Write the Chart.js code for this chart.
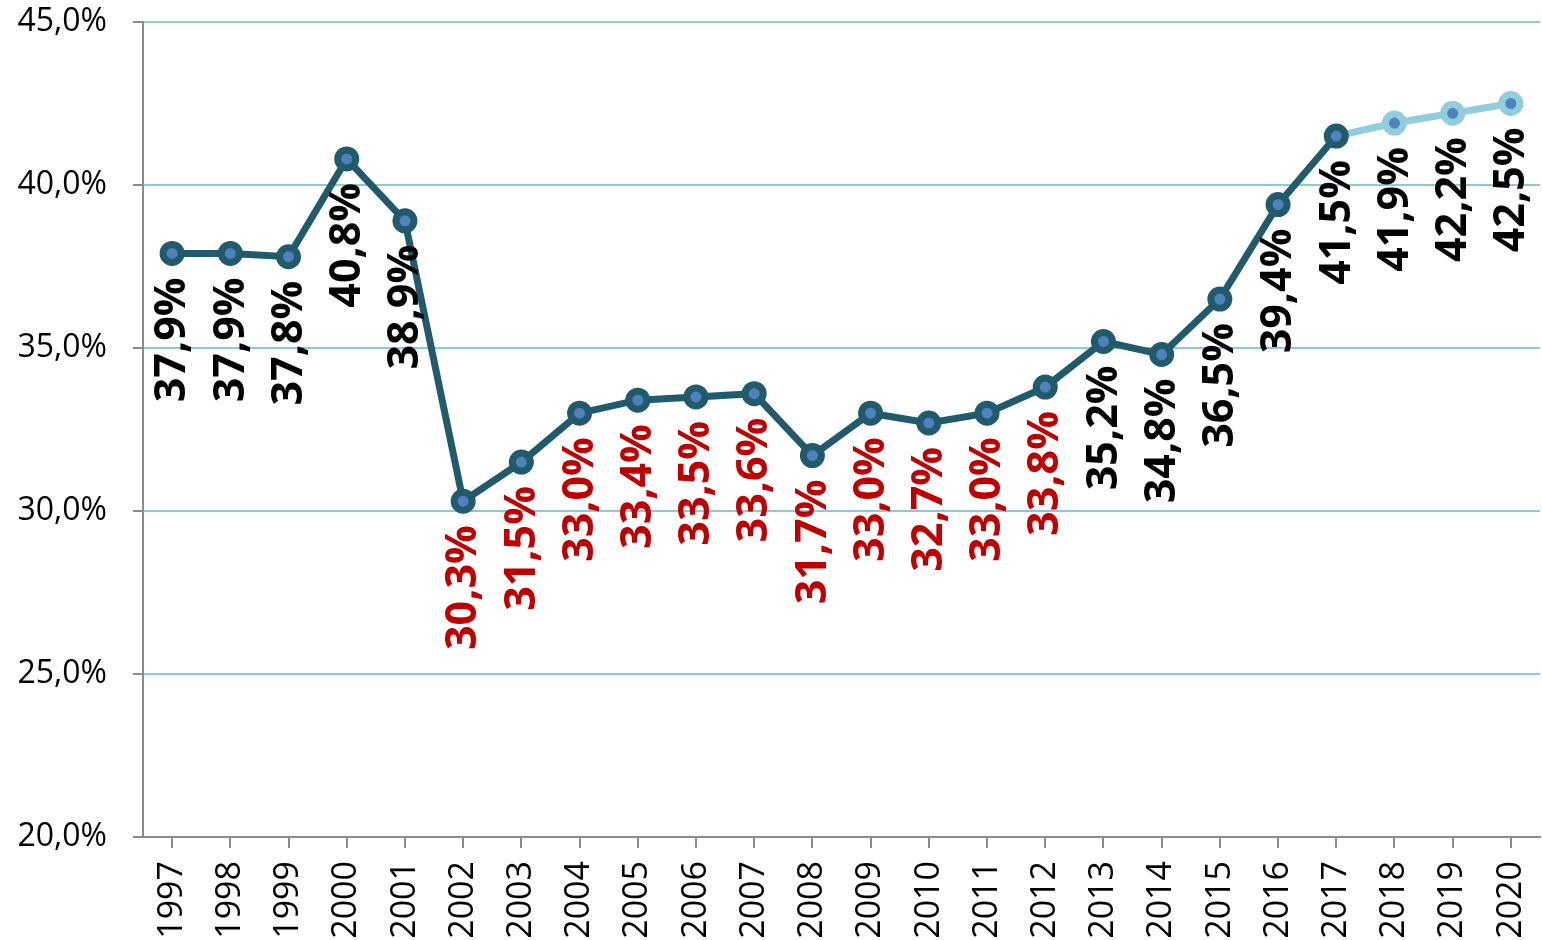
<!DOCTYPE html>
<html>
<head>
<meta charset="utf-8">
<script src="https://cdn.jsdelivr.net/npm/chart.js@4/dist/chart.umd.min.js"></script>
<style>
  html, body { margin: 0; padding: 0; background: #fff; }
  #wrap { width: 1542px; height: 940px; }
</style>
</head>
<body>
<div id="wrap"><canvas id="lineChart" width="1542" height="940"></canvas></div>
<script>
// data
var years = ['1997','1998','1999','2000','2001','2002','2003','2004','2005','2006','2007','2008',
             '2009','2010','2011','2012','2013','2014','2015','2016','2017','2018','2019','2020'];
var shares = [37.9, 37.9, 37.8, 40.8, 38.9, 30.3, 31.5, 33.0, 33.4, 33.5, 33.6, 31.7,
              33.0, 32.7, 33.0, 33.8, 35.2, 34.8, 36.5, 39.4, 41.5, 41.9, 42.2, 42.5];
var yTicks = [20, 25, 30, 35, 40, 45];
var lastActual = 20; // index of 2017, after that forecast

var DARK = '#215A6B';
var LIGHT = '#92CDDC';
var RED = '#C00000';

function pct(v) {
    return v.toFixed(1).replace('.', ',') + '%';
}

// --- data labels, rotated, under every point ---
var valueLabels = {
    id: 'valueLabels',
    afterDatasetsDraw: function(chart) {
        var ctx = chart.ctx;
        var meta = chart.getDatasetMeta(0);
        ctx.save();
        ctx.font = 'bold 43px "Open Sans", sans-serif';
        ctx.textAlign = 'right';
        ctx.textBaseline = 'middle';
        meta.data.forEach(function(pt, i) {
            var v = shares[i];
            ctx.save();
            ctx.translate(pt.x + 1, pt.y + 24);
            ctx.rotate(-Math.PI / 2);
            ctx.fillStyle = v < 34 ? RED : '#000';
            ctx.fillText(pct(v), 0, 0);
            ctx.restore();
        });
        ctx.restore();
    }
};

var pointBorders = shares.map(function(v, i) { return i > lastActual ? LIGHT : DARK; });

var config = {
    type: 'line',
    data: {
        labels: years,
        datasets: [{
            data: shares,
            borderColor: DARK,
            borderWidth: 7,
            pointRadius: 9,
            pointBorderWidth: 7,
            pointBorderColor: pointBorders,
            pointBackgroundColor: '#4F81BD',
            tension: 0,
            segment: {
                borderColor: function(c) { return c.p0DataIndex >= lastActual ? LIGHT : DARK; }
            }
        }]
    },
    options: {
        responsive: false,
        animation: false,
        layout: { autoPadding: false, padding: { top: 22, right: 2, left: 0, bottom: 0 } },
        plugins: {
            legend: { display: false },
            tooltip: { enabled: false }
        },
        scales: {
            x: {
                offset: true,
                grid: {
                    drawOnChartArea: false,
                    drawTicks: true,
                    tickLength: 11,
                    tickColor: '#8C8C8C',
                    lineWidth: 2
                },
                border: { color: '#8C8C8C', width: 2 },
                ticks: {
                    minRotation: 90,
                    maxRotation: 90,
                    autoSkip: false,
                    padding: 13,
                    color: '#000',
                    font: { family: '"Open Sans", sans-serif', size: 34 }
                },
                afterFit: function(scale) {
                    scale.height = 103;
                    scale.paddingLeft = 0;
                    scale.paddingRight = 0;
                }
            },
            y: {
                min: 20,
                max: 45,
                afterBuildTicks: function(scale) {
                    scale.ticks = yTicks.map(function(v) { return { value: v }; });
                },
                grid: {
                    color: '#8DC9DA',
                    lineWidth: 2,
                    tickLength: 10,
                    tickColor: '#8C8C8C'
                },
                border: { color: '#8C8C8C', width: 2 },
                ticks: {
                    padding: 26,
                    color: '#000',
                    font: { family: '"Open Sans", sans-serif', size: 32 },
                    callback: function(v) { return pct(v); }
                },
                afterFit: function(scale) {
                    scale.width = 143;
                    scale.paddingTop = 0;
                    scale.paddingBottom = 0;
                }
            }
        }
    },
    plugins: [valueLabels]
};

var canvas = document.getElementById('lineChart');
var lineChart = new Chart(canvas, config);
</script>
</body>
</html>
